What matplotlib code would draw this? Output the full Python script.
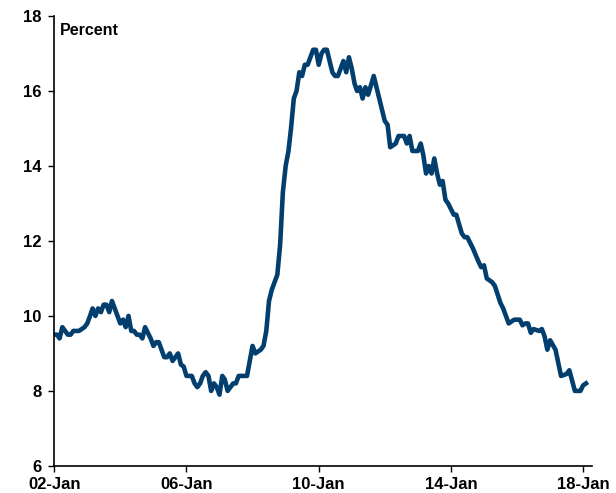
import matplotlib
matplotlib.use("Agg")
import matplotlib.pyplot as plt
import matplotlib.dates as mdates
import pandas as pd

# months since Jan 2002 and the rate (percent)
months = [0, 1, 2, 3, 5, 6, 7, 9, 11, 12, 13, 14, 15, 16, 17, 18, 19, 20, 21, 22,
          23, 24, 25, 26, 27, 28, 29, 30, 31, 32, 33, 35, 36, 37, 38, 39, 40, 41, 42, 43,
          44, 45, 46, 47, 48, 50, 51, 52, 53, 54, 55, 56, 57, 58, 59, 60, 61, 62, 63, 64,
          65, 66, 67, 70, 71, 72, 73, 75, 76, 77, 78, 79, 80, 81, 82, 83, 84, 85, 86, 87,
          88, 89, 90, 91, 92, 93, 94, 95, 96, 97, 98, 99, 100, 101, 102, 103, 105, 106, 107, 108,
          109, 110, 111, 112, 113, 114, 116, 118, 120, 121, 122, 124, 125, 127, 128, 129, 130, 132, 133, 134,
          135, 136, 137, 138, 139, 140, 141, 142, 143, 145, 146, 148, 149, 150, 152, 154, 155, 156, 157, 159,
          160, 162, 163, 165, 167, 169, 170, 171, 172, 173, 174, 176, 177, 178, 179, 180, 182, 183, 184, 186,
          187, 189, 191, 192, 193]
rate = [9.5, 9.5, 9.4, 9.7, 9.5, 9.5, 9.6, 9.6, 9.7, 9.8, 10.0, 10.2, 10.0, 10.2, 10.1, 10.3, 10.3, 10.1, 10.4, 10.2,
        10.0, 9.8, 9.9, 9.7, 10.0, 9.6, 9.6, 9.5, 9.5, 9.4, 9.7, 9.4, 9.2, 9.3, 9.3, 9.1, 8.9, 8.9, 9.0, 8.8,
        8.9, 9.0, 8.7, 8.65, 8.4, 8.4, 8.2, 8.1, 8.2, 8.4, 8.5, 8.4, 8.0, 8.2, 8.1, 7.9, 8.4, 8.3, 8.0, 8.1,
        8.2, 8.2, 8.4, 8.4, 8.8, 9.2, 9.0, 9.1, 9.2, 9.6, 10.4, 10.7, 10.9, 11.1, 11.9, 13.3, 14.0, 14.4, 15.0, 15.8,
        16.0, 16.5, 16.4, 16.7, 16.7, 16.9, 17.1, 17.1, 16.7, 17.0, 17.1, 17.1, 16.8, 16.5, 16.4, 16.4, 16.8, 16.5, 16.9, 16.6,
        16.2, 16.0, 16.1, 15.8, 16.1, 15.9, 16.4, 15.8, 15.2, 15.1, 14.5, 14.6, 14.8, 14.8, 14.6, 14.8, 14.4, 14.4, 14.6, 14.3,
        13.8, 14.0, 13.8, 14.2, 13.8, 13.5, 13.6, 13.1, 13.0, 12.7, 12.7, 12.2, 12.1, 12.1, 11.8, 11.45, 11.3, 11.35, 11.0, 10.9,
        10.8, 10.35, 10.2, 9.8, 9.9, 9.9, 9.75, 9.8, 9.8, 9.55, 9.65, 9.6, 9.65, 9.45, 9.1, 9.35, 9.1, 8.75, 8.4, 8.45,
        8.55, 8.0, 8.0, 8.15, 8.2]

start = pd.Timestamp("2002-01-01")
dates = [start + pd.DateOffset(months=m) for m in months]

plt.rcParams["font.family"] = ["Liberation Sans", "DejaVu Sans"]
plt.rcParams["font.weight"] = "bold"

fig = plt.figure(figsize=(6.16, 4.93), dpi=100)
ax = fig.add_axes([0.088, 0.055, 0.873, 0.9125])

ax.plot(dates, rate, color="#023f6e", lw=3.3, solid_joinstyle="round")

ax.set_ylim(6, 18)
ax.set_yticks(range(6, 19, 2))
ax.set_xlim(pd.Timestamp("2002-01-01"), pd.Timestamp("2018-04-08"))
ax.set_xticks([pd.Timestamp(f"{y}-01-01") for y in (2002, 2006, 2010, 2014, 2018)])
ax.xaxis.set_major_formatter(mdates.DateFormatter("%y-%b"))

for s in ("top", "right"):
    ax.spines[s].set_visible(False)
for s in ("left", "bottom"):
    ax.spines[s].set_linewidth(1.2)
ax.tick_params(axis="both", direction="out", length=4, width=1, labelsize=12)
ax.tick_params(axis="x", pad=4)
ax.tick_params(axis="y", pad=5)
for lab in ax.get_xticklabels() + ax.get_yticklabels():
    lab.set_fontweight("bold")

ax.text(0.01, 0.985, "Percent", transform=ax.transAxes, fontsize=11.5,
        fontweight="bold", va="top", ha="left")

fig.savefig("out.png", dpi=100)
